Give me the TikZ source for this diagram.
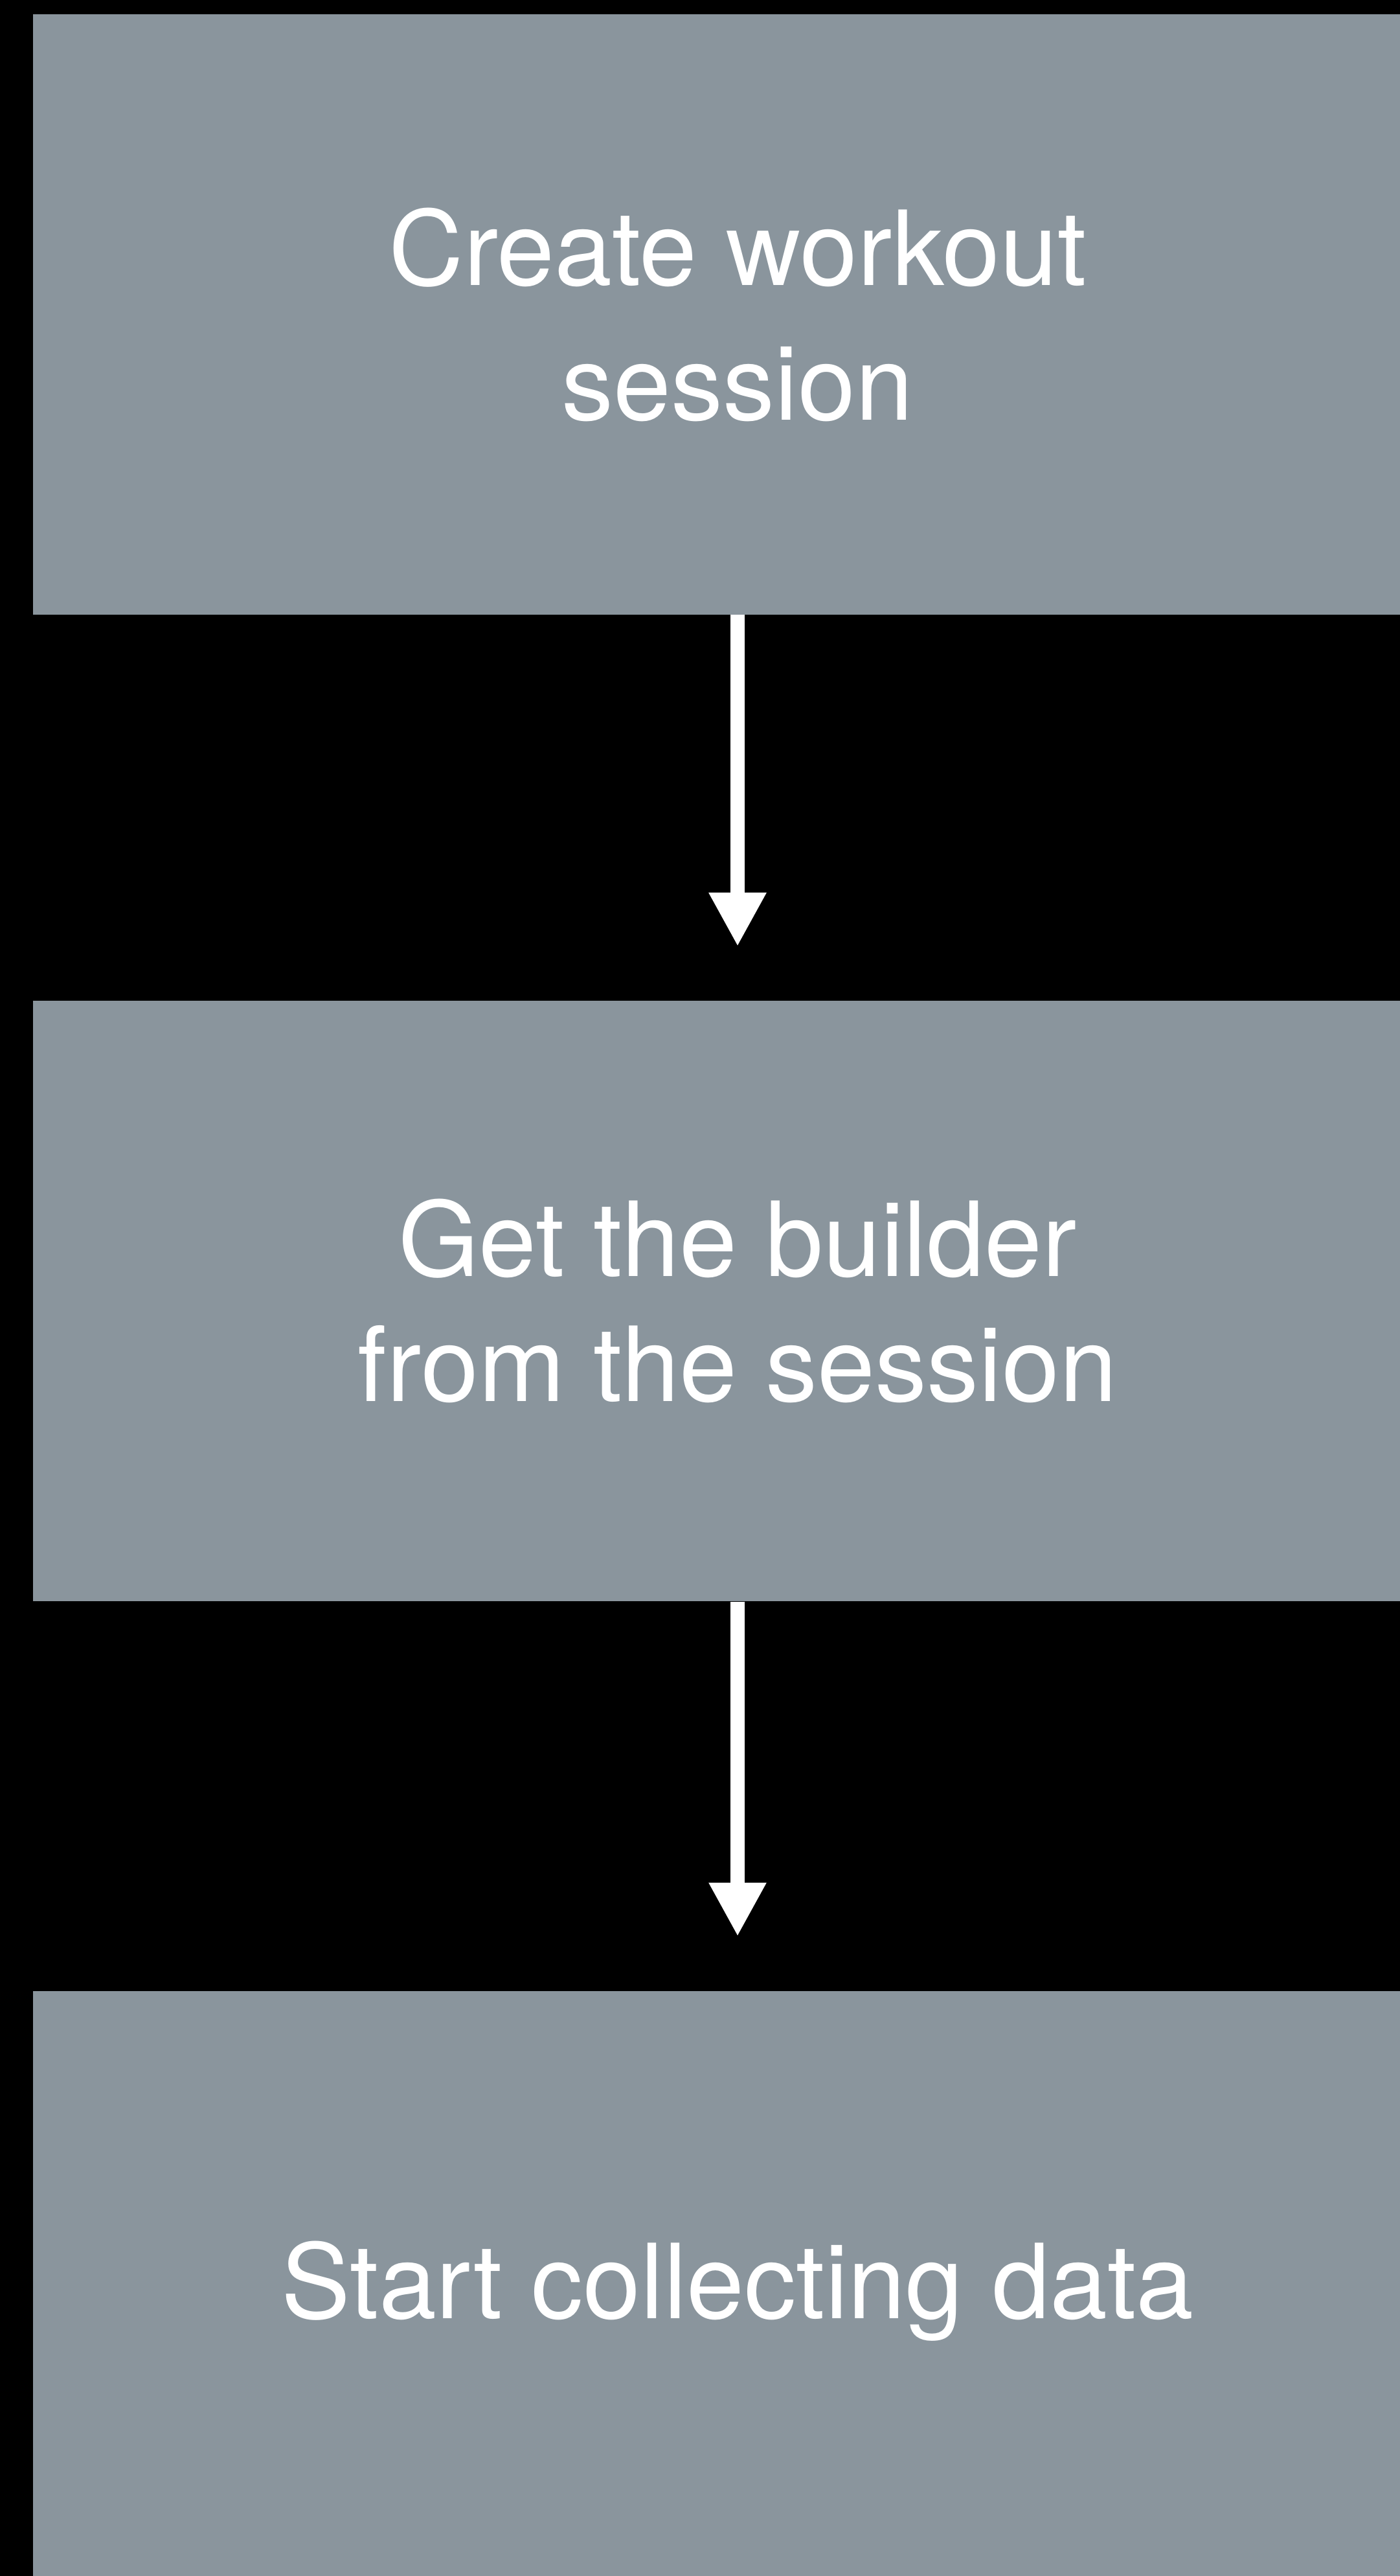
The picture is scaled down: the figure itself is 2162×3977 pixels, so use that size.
\documentclass[tikz,border=0pt]{standalone}
\usepackage{fontspec}
\setmainfont{TeX Gyre Heros}
\usetikzlibrary{arrows.meta, positioning}

\definecolor{stepgray}{RGB}{138,149,157}

\begin{document}
\begin{tikzpicture}[x=1pt, y=1pt, node distance={596pt},
    stepbox/.style = {rectangle, fill=stepgray, text=white, align=center,
        minimum width=2176pt, minimum height=927pt, inner sep=0pt,
        font=\fontsize{160}{193}\selectfont},
    flow/.style = {draw=white, line width=21.5pt,
        -{Triangle[width=83pt, length=83pt]}, shorten >=84pt}]
            % Background
            \fill[black] (0,0) rectangle (2162,-3977);
            \useasboundingbox (0,0) rectangle (2162,-3977);

            % Nodes
            \node[stepbox, font=\fontsize{160}{208}\selectfont] (create) at (1139,-485.5)
                {Create workout\\session};
            \node[stepbox] (builder) [below=of create]
                {Get the builder\\from the session};
            \node[stepbox] (collect) [below=601pt of builder]
                {Start collecting data};

            % Lines
            \draw[flow] (create) -- (builder);
            \draw[flow] (builder) -- (collect);
        \end{tikzpicture}
\end{document}
